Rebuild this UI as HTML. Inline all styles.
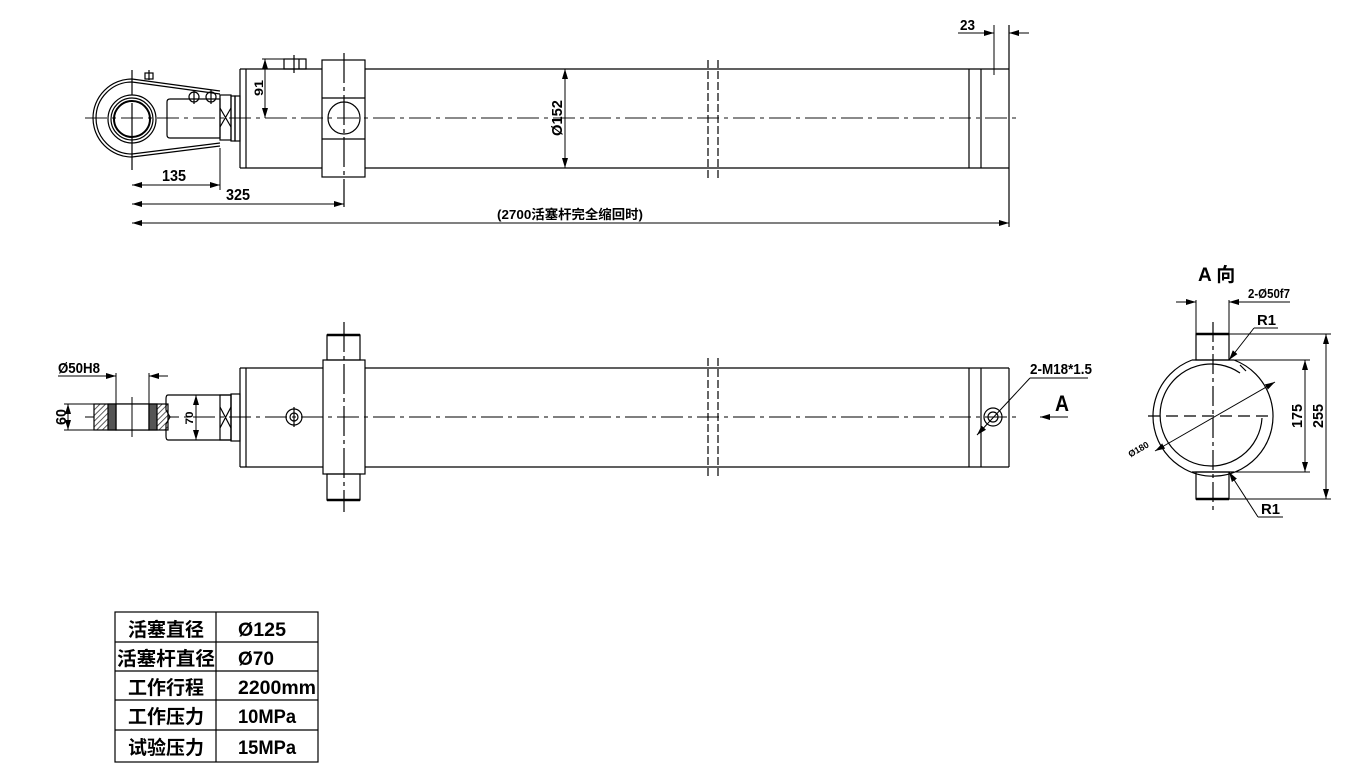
<!DOCTYPE html>
<html><head><meta charset="utf-8"><style>
html,body{margin:0;padding:0;background:#fff;}
svg{display:block;}
text{font-family:"Liberation Sans","Noto Sans CJK SC",sans-serif;font-weight:bold;fill:#000;}
</style></head><body>
<svg width="1367" height="784" viewBox="0 0 1367 784" xmlns="http://www.w3.org/2000/svg">
<defs>
<marker id="ar" viewBox="0 0 10 6" refX="10" refY="3" markerWidth="10" markerHeight="6" orient="auto-start-reverse" markerUnits="userSpaceOnUse"><path d="M0,0 L10,3 L0,6 z" fill="#000"/></marker>
<pattern id="hat" width="4" height="4" patternUnits="userSpaceOnUse" patternTransform="rotate(45)"><rect width="4" height="4" fill="#fff"/><line x1="0" y1="0" x2="0" y2="4" stroke="#333" stroke-width="1.6"/></pattern>
</defs>
<g fill="none" stroke="#000" stroke-width="1.2">
<!-- ===== TOP VIEW ===== -->
<line x1="85" y1="118" x2="1018" y2="118" stroke="#444" stroke-dasharray="22,5,4,5"/>
<!-- eye -->
<path d="M132,79 A39,39 0 0 0 132,157"/>
<path d="M132,82 A36,36 0 0 0 132,154"/>
<line x1="132" y1="79" x2="220" y2="91"/><line x1="132" y1="82" x2="220" y2="94"/>
<line x1="132" y1="157" x2="220" y2="146"/><line x1="132" y1="154" x2="220" y2="143"/>
<circle cx="132" cy="119" r="24"/><circle cx="132" cy="119" r="21"/><circle cx="132" cy="119" r="18" stroke-width="2"/>
<line x1="132" y1="103" x2="132" y2="170"/><line x1="132" y1="70" x2="132" y2="95"/>
<rect x="145" y="73" width="8" height="6"/><line x1="149" y1="70" x2="149" y2="80"/>
<path d="M170,99 H220 V138 H170 Q167,138 167,135 V102 Q167,99 170,99"/>
<circle cx="194" cy="97" r="5"/><circle cx="211" cy="97" r="5"/>
<line x1="194" y1="90" x2="194" y2="104"/><line x1="211" y1="90" x2="211" y2="104"/>
<rect x="220" y="95" width="11" height="45"/>
<path d="M220,108 L231,127 M231,108 L220,127"/>
<rect x="231" y="96" width="4" height="45"/><rect x="235" y="96" width="5" height="45"/>
<!-- body -->
<line x1="240" y1="69" x2="322" y2="69"/><line x1="240" y1="168" x2="322" y2="168"/>
<line x1="365" y1="69" x2="1009" y2="69"/><line x1="365" y1="168" x2="1009" y2="168"/>
<line x1="240" y1="69" x2="240" y2="168"/><line x1="246" y1="69" x2="246" y2="168"/>
<rect x="322" y="60" width="43" height="117"/>
<line x1="322" y1="98" x2="365" y2="98"/><line x1="322" y1="139" x2="365" y2="139"/>
<circle cx="344" cy="118" r="16"/>
<line x1="344" y1="53" x2="344" y2="207" stroke-dasharray="30,4,4,4"/>
<rect x="284" y="59" width="22" height="10"/><line x1="294" y1="55" x2="294" y2="73"/><line x1="299" y1="59" x2="299" y2="69"/>
<line x1="969" y1="69" x2="969" y2="168"/><line x1="981" y1="69" x2="981" y2="168"/>
<line x1="1009" y1="25" x2="1009" y2="227"/>
<line x1="708" y1="60" x2="708" y2="178" stroke-dasharray="8,3"/><line x1="718" y1="60" x2="718" y2="178" stroke-dasharray="8,3"/>
<!-- dims top -->
<line x1="265" y1="59" x2="265" y2="118" marker-start="url(#ar)" marker-end="url(#ar)" stroke-width="1"/>
<line x1="262" y1="59" x2="284" y2="59" stroke-width="1"/>
<line x1="565" y1="69" x2="565" y2="168" marker-start="url(#ar)" marker-end="url(#ar)" stroke-width="1"/>
<line x1="220" y1="148" x2="220" y2="190" stroke-width="1"/>
<line x1="132" y1="185" x2="220" y2="185" marker-start="url(#ar)" marker-end="url(#ar)" stroke-width="1"/>
<line x1="132" y1="204" x2="344" y2="204" marker-start="url(#ar)" marker-end="url(#ar)" stroke-width="1"/>
<line x1="132" y1="223" x2="1009" y2="223" marker-start="url(#ar)" marker-end="url(#ar)" stroke-width="1"/>
<line x1="994" y1="25" x2="994" y2="75" stroke-width="1"/>
<line x1="958" y1="33" x2="994" y2="33" marker-end="url(#ar)" stroke-width="1"/>
<line x1="1029" y1="33" x2="1009" y2="33" marker-end="url(#ar)" stroke-width="1"/>

<!-- ===== MIDDLE VIEW ===== -->
<line x1="85" y1="417" x2="1020" y2="417" stroke="#333" stroke-dasharray="22,5,4,5"/>
<rect x="94" y="404" width="74" height="26" fill="url(#hat)"/>
<rect x="116" y="404" width="33" height="26" fill="#fff"/>
<rect x="108" y="404" width="8" height="26" fill="#555"/><rect x="149" y="404" width="8" height="26" fill="#555"/>
<line x1="132" y1="397" x2="132" y2="437" stroke-width="1"/>
<path d="M168,395 H231 V440 H168 Q166,440 166,436 V424 L170,417 L166,410 V399 Q166,395 168,395"/>
<rect x="220" y="395" width="11" height="45"/><path d="M220,407 L231,428 M231,407 L220,428"/>
<rect x="231" y="394" width="9" height="47"/>
<line x1="240" y1="368" x2="323" y2="368"/><line x1="240" y1="467" x2="323" y2="467"/>
<line x1="365" y1="368" x2="1009" y2="368"/><line x1="365" y1="467" x2="1009" y2="467"/>
<line x1="240" y1="368" x2="240" y2="467"/><line x1="246" y1="368" x2="246" y2="467"/>
<rect x="323" y="360" width="42" height="114"/>
<rect x="327" y="335" width="33" height="25"/><rect x="327" y="474" width="33" height="26"/>
<line x1="327" y1="335" x2="360" y2="335" stroke-width="2.5"/><line x1="327" y1="500" x2="360" y2="500" stroke-width="2.5"/>
<line x1="344" y1="322" x2="344" y2="512" stroke-dasharray="30,4,4,4"/>
<circle cx="294" cy="417" r="8"/><circle cx="294" cy="417" r="4"/><line x1="294" y1="407" x2="294" y2="427"/>
<line x1="969" y1="368" x2="969" y2="467"/><line x1="981" y1="368" x2="981" y2="467"/><line x1="1009" y1="368" x2="1009" y2="467"/>
<circle cx="993" cy="417" r="9"/><circle cx="993" cy="417" r="5"/>
<line x1="708" y1="358" x2="708" y2="478" stroke-dasharray="8,3"/><line x1="718" y1="358" x2="718" y2="478" stroke-dasharray="8,3"/>
<line x1="977" y1="435" x2="1030" y2="378" marker-start="url(#ar)" stroke-width="1"/>
<line x1="1030" y1="378" x2="1088" y2="378" stroke-width="1"/>
<line x1="1068" y1="417" x2="1040" y2="417" marker-end="url(#ar)" stroke-width="1"/>
<line x1="196" y1="395" x2="196" y2="440" marker-start="url(#ar)" marker-end="url(#ar)" stroke-width="1"/>
<line x1="68" y1="404" x2="68" y2="430" marker-start="url(#ar)" marker-end="url(#ar)" stroke-width="1"/>
<line x1="64" y1="404" x2="94" y2="404" stroke-width="1"/><line x1="64" y1="430" x2="94" y2="430" stroke-width="1"/>
<line x1="116" y1="373" x2="116" y2="404" stroke-width="1"/><line x1="149" y1="373" x2="149" y2="404" stroke-width="1"/>
<line x1="58" y1="376" x2="116" y2="376" marker-end="url(#ar)" stroke-width="1"/>
<line x1="168" y1="376" x2="149" y2="376" marker-end="url(#ar)" stroke-width="1"/>

<!-- ===== A VIEW ===== -->
<path d="M1192,360 A60,60 0 1 0 1234,360"/>
<line x1="1192" y1="360" x2="1234" y2="360"/>
<path d="M1192,472 L1234,472"/>
<path d="M1240,365 L1246,371"/>
<path d="M1262,418 A51,51 0 1 1 1240,373" />
<rect x="1196" y="334" width="33" height="26"/><rect x="1196" y="472" width="33" height="27"/>
<line x1="1196" y1="334" x2="1229" y2="334" stroke-width="2.5"/><line x1="1196" y1="499" x2="1229" y2="499" stroke-width="2.5"/>
<line x1="1213" y1="322" x2="1213" y2="512" stroke-dasharray="20,4,4,4"/>
<line x1="1148" y1="416" x2="1272" y2="416" stroke-dasharray="12,6"/>
<line x1="1234" y1="360" x2="1310" y2="360" stroke-width="1"/><line x1="1234" y1="472" x2="1310" y2="472" stroke-width="1"/>
<line x1="1229" y1="334" x2="1331" y2="334" stroke-width="1"/><line x1="1229" y1="499" x2="1331" y2="499" stroke-width="1"/>
<line x1="1305" y1="360" x2="1305" y2="472" marker-start="url(#ar)" marker-end="url(#ar)" stroke-width="1"/>
<line x1="1326" y1="334" x2="1326" y2="499" marker-start="url(#ar)" marker-end="url(#ar)" stroke-width="1"/>
<line x1="1196" y1="300" x2="1196" y2="334" stroke-width="1"/><line x1="1229" y1="300" x2="1229" y2="334" stroke-width="1"/>
<line x1="1176" y1="302" x2="1196" y2="302" marker-end="url(#ar)" stroke-width="1"/>
<line x1="1290" y1="302" x2="1229" y2="302" marker-end="url(#ar)" stroke-width="1"/>
<line x1="1254" y1="328" x2="1229" y2="360" marker-end="url(#ar)" stroke-width="1"/>
<line x1="1254" y1="328" x2="1278" y2="328" stroke-width="1"/>
<line x1="1258" y1="517" x2="1229" y2="472" marker-end="url(#ar)" stroke-width="1"/>
<line x1="1258" y1="517" x2="1283" y2="517" stroke-width="1"/>
<line x1="1155" y1="451" x2="1275" y2="382" marker-start="url(#ar)" marker-end="url(#ar)" stroke-width="1"/>

<!-- ===== TABLE ===== -->
<rect x="115" y="612" width="203" height="150" stroke-width="1.2"/>
<line x1="216" y1="612" x2="216" y2="762"/>
<line x1="115" y1="642" x2="318" y2="642"/><line x1="115" y1="671" x2="318" y2="671"/>
<line x1="115" y1="700" x2="318" y2="700"/><line x1="115" y1="730" x2="318" y2="730"/>
</g>

<!-- texts -->
<text x="263" y="88" font-size="12" transform="rotate(-90 263 88)" text-anchor="middle" textLength="16" lengthAdjust="spacingAndGlyphs">91</text>
<text x="562" y="118" font-size="15" transform="rotate(-90 562 118)" text-anchor="middle" textLength="36" lengthAdjust="spacingAndGlyphs">Ø152</text>
<text x="162" y="181" font-size="16" textLength="24" lengthAdjust="spacingAndGlyphs">135</text>
<text x="226" y="200" font-size="16" textLength="24" lengthAdjust="spacingAndGlyphs">325</text>
<text x="497" y="219" font-size="13" textLength="146" lengthAdjust="spacingAndGlyphs">(2700活塞杆完全缩回时)</text>
<line x1="958" y1="33" x2="985" y2="33" stroke="#000"/>
<text x="960" y="30" font-size="15" textLength="15" lengthAdjust="spacingAndGlyphs">23</text>

<text x="58" y="373" font-size="15" textLength="42" lengthAdjust="spacingAndGlyphs">Ø50H8</text>
<line x1="58" y1="376" x2="100" y2="376" stroke="#000"/>
<text x="66" y="417" font-size="15" transform="rotate(-90 66 417)" text-anchor="middle" textLength="16" lengthAdjust="spacingAndGlyphs">60</text>
<text x="193" y="418" font-size="11" transform="rotate(-90 193 418)" text-anchor="middle" textLength="13" lengthAdjust="spacingAndGlyphs">70</text>
<text x="1030" y="374" font-size="15" textLength="62" lengthAdjust="spacingAndGlyphs">2-M18*1.5</text>
<text x="1055" y="411" font-size="22" font-weight="normal" textLength="14" lengthAdjust="spacingAndGlyphs">A</text>

<text x="1198" y="281" font-size="19" font-weight="normal">A 向</text>
<text x="1248" y="298" font-size="13" textLength="42" lengthAdjust="spacingAndGlyphs">2-Ø50f7</text>
<line x1="1248" y1="302" x2="1290" y2="302" stroke="#000"/>
<text x="1257" y="325" font-size="15" textLength="19" lengthAdjust="spacingAndGlyphs">R1</text>
<text x="1261" y="514" font-size="15" textLength="19" lengthAdjust="spacingAndGlyphs">R1</text>
<text x="1302" y="416" font-size="15" transform="rotate(-90 1302 416)" text-anchor="middle" textLength="24" lengthAdjust="spacingAndGlyphs">175</text>
<text x="1323" y="416" font-size="15" transform="rotate(-90 1323 416)" text-anchor="middle" textLength="24" lengthAdjust="spacingAndGlyphs">255</text>
<text x="1140" y="452" font-size="9" transform="rotate(-30 1140 452)" text-anchor="middle">Ø180</text>

<g font-size="19">
<text x="128" y="636">活塞直径</text>
<text x="117" y="665" textLength="98" lengthAdjust="spacingAndGlyphs">活塞杆直径</text>
<text x="128" y="694">工作行程</text>
<text x="128" y="723">工作压力</text>
<text x="128" y="754">试验压力</text>
<text x="238" y="636" textLength="48" lengthAdjust="spacingAndGlyphs">Ø125</text>
<text x="238" y="665" textLength="36" lengthAdjust="spacingAndGlyphs">Ø70</text>
<text x="238" y="694" textLength="78" lengthAdjust="spacingAndGlyphs">2200mm</text>
<text x="238" y="723" textLength="58" lengthAdjust="spacingAndGlyphs">10MPa</text>
<text x="238" y="754" textLength="58" lengthAdjust="spacingAndGlyphs">15MPa</text>
</g>
</svg>
</body></html>
